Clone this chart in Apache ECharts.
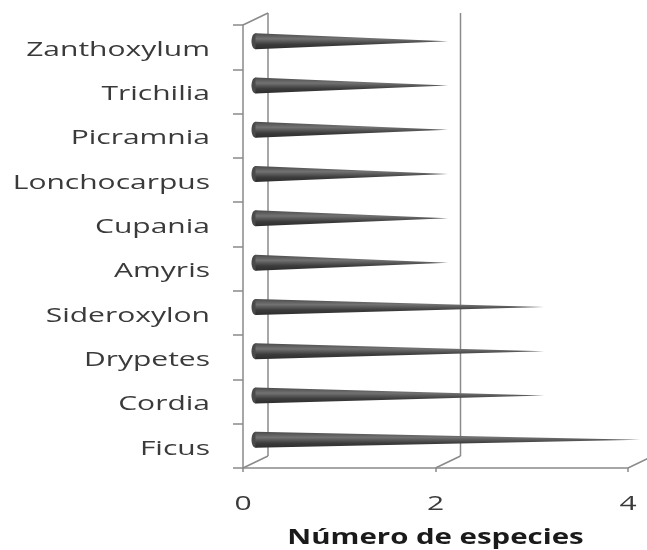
<!DOCTYPE html>
<html>
<head>
<meta charset="utf-8">
<script src="https://cdn.jsdelivr.net/npm/echarts@6/dist/echarts.min.js"></script>
<style>
  html, body { margin: 0; padding: 0; background: #fff; }
  #chart { width: 647px; height: 550px; }
</style>
</head>
<body>
<div id="chart"></div>
<script>
// géneros, de abajo hacia arriba
const generos = ['Ficus', 'Cordia', 'Drypetes', 'Sideroxylon', 'Amyris',
    'Cupania', 'Lonchocarpus', 'Picramnia', 'Trichilia', 'Zanthoxylum'];
const especies = [4, 3, 3, 3, 2, 2, 2, 2, 2, 2];
const xTicks = [0, 2, 4];
const xName = 'Número de especies';

// profundidad del efecto 3D
const DX = 25, DY = -12;
// el original está estirado a lo ancho
const STRETCH = 1.5;
const FONT = '"Open Sans", sans-serif';
const LINE = '#8a8a8a';
const TEXT = '#3a3a3a';

const chart = echarts.init(document.getElementById('chart'));

function renderFrame(params, api) {
    const cs = params.coordSys;
    const v = api.value(0);
    const x = api.coord([v, 0])[0];
    const bottom = cs.y + cs.height;
    const top = cs.y;
    const style = { stroke: LINE, lineWidth: 1.5, fill: null };
    const children = [
        { type: 'line', shape: { x1: x, y1: bottom, x2: x + DX, y2: bottom + DY }, style },
        { type: 'line', shape: { x1: x + DX, y1: bottom + DY, x2: x + DX, y2: top + DY }, style },
        {
            type: 'text', x: x, y: bottom + 36, scaleX: STRETCH,
            style: {
                text: String(v), fontFamily: FONT, fontSize: 20, fill: TEXT,
                align: 'center', verticalAlign: 'middle'
            }
        }
    ];
    if (v === 0) {
        children.push({ type: 'line', shape: { x1: x, y1: top, x2: x + DX, y2: top + DY }, style });
        children.push({
            type: 'text', x: cs.x + cs.width / 2, y: bottom + 70, scaleX: 1.4,
            style: {
                text: xName, fontFamily: FONT, fontSize: 21, fontWeight: 'bold', fill: '#1a1a1a',
                align: 'center', verticalAlign: 'middle'
            }
        });
    }
    return { type: 'group', children };
}

function renderLabel(params, api) {
    const idx = api.value(0);
    const p = api.coord([0, idx]);
    return {
        type: 'text', x: p[0] - 33, y: p[1] + 3, scaleX: STRETCH,
        style: {
            text: generos[idx], fontFamily: FONT, fontSize: 20, fill: TEXT,
            align: 'right', verticalAlign: 'middle'
        }
    };
}

function renderCone(params, api) {
    const v = api.value(0);
    const idx = api.value(1);
    const p0 = api.coord([0, idx]);
    const p1 = api.coord([v, idx]);
    const x0 = p0[0] + DX / 2;
    const x1 = p1[0] + DX / 2;
    const cy = p0[1] + DY / 2;
    const r = 8;
    const fill = new echarts.graphic.LinearGradient(0, 0, 0, 1, [
        { offset: 0, color: '#4a4a4a' },
        { offset: 0.35, color: '#727272' },
        { offset: 0.7, color: '#3c3c3c' },
        { offset: 1, color: '#2c2c2c' }
    ]);
    return {
        type: 'group',
        children: [
            { type: 'ellipse', shape: { cx: x0, cy: cy, rx: 4, ry: r }, style: { fill: '#4a4a4a' } },
            { type: 'polygon', shape: { points: [[x0, cy - r], [x1, cy], [x0, cy + r]] }, style: { fill } }
        ]
    };
}

chart.setOption({
    animation: false,
    grid: { left: 243, right: 19, top: 25, bottom: 82, outerBoundsMode: 'none' },
    xAxis: {
        type: 'value', min: 0, max: 4, interval: 2,
        axisLine: { show: true, lineStyle: { color: LINE, width: 1.5 } },
        axisTick: { show: true, length: 4, lineStyle: { color: LINE, width: 1.5 } },
        splitLine: { show: false },
        axisLabel: { show: false }
    },
    yAxis: {
        type: 'category', data: generos,
        axisLine: { show: true, lineStyle: { color: LINE, width: 1.5 } },
        axisTick: { show: true, length: 10, lineStyle: { color: LINE, width: 1.5 } },
        axisLabel: { show: false }
    },
    series: [
        {
            type: 'custom', renderItem: renderFrame, z: 1, silent: true, clip: false,
            data: xTicks.map(v => [v])
        },
        {
            type: 'custom', renderItem: renderLabel, z: 1, silent: true, clip: false,
            encode: { y: 0 },
            data: generos.map((g, i) => [i])
        },
        {
            type: 'custom', renderItem: renderCone, z: 2,
            encode: { x: 0, y: 1 },
            data: especies.map((v, i) => [v, i])
        }
    ]
});
</script>
</body>
</html>
